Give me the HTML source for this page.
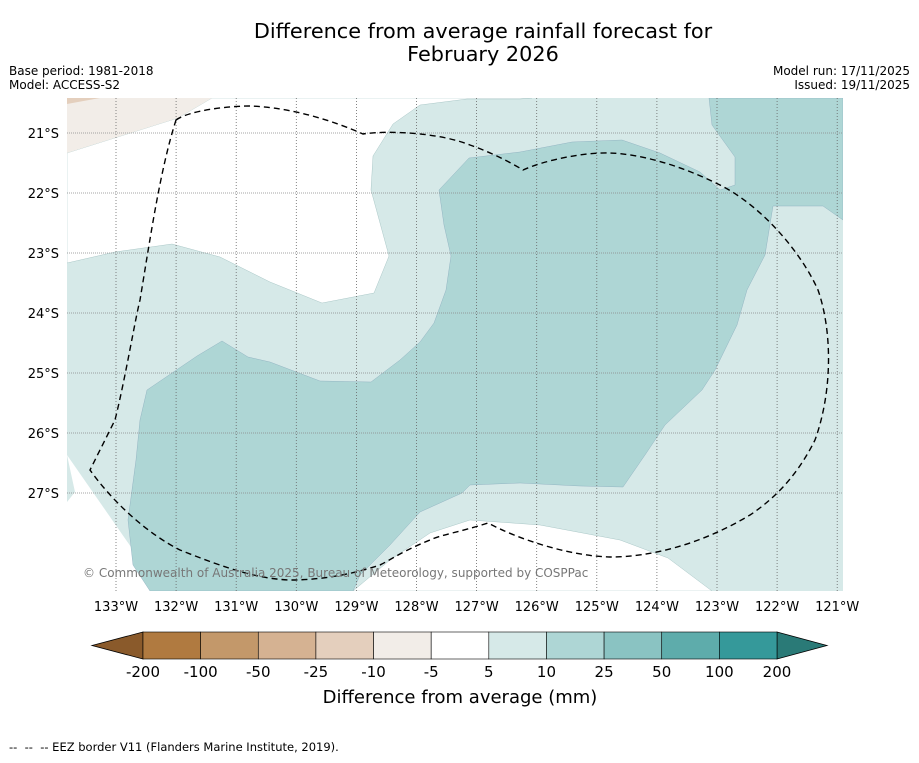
<!DOCTYPE html>
<html><head><meta charset="utf-8"><style>
body{margin:0;background:#fff;font-family:"Liberation Sans","DejaVu Sans",sans-serif}
svg text{font-family:"DejaVu Sans","Liberation Sans",sans-serif}
</style></head><body>
<svg id="chart" width="919" height="758" xmlns="http://www.w3.org/2000/svg">
<text x="483" y="38" font-size="20.8" text-anchor="middle">Difference from average rainfall forecast for</text>
<text x="483" y="61" font-size="20.8" text-anchor="middle">February 2026</text>
<text x="9" y="75" font-size="12">Base period: 1981-2018</text>
<text x="9" y="89" font-size="12">Model: ACCESS-S2</text>
<text x="910" y="75" font-size="12" text-anchor="end">Model run: 17/11/2025</text>
<text x="910" y="89" font-size="12" text-anchor="end">Issued: 19/11/2025</text>
<defs><clipPath id="mc"><rect x="67" y="98" width="776" height="493"/></clipPath></defs>
<g clip-path="url(#mc)">
<rect x="67" y="98" width="776" height="493" fill="#d6e9e8"/>
<polygon fill="#ffffff" stroke="#9bb" stroke-width="0.4" points="67,153 178,118 212,98 532,98 520,99 467,99 420,105 393,124 373,156 371,190 389,256 374,293 322,303 270,282 220,257 172,244 115,252 67,263"/>
<polygon fill="#f2ede8" points="67,98 212,98 178,118 67,153"/>
<polygon fill="#e4cfbd" points="67,98 100,98 67,104"/>
<polygon fill="#ffffff" points="67,455 75,492 67,502 67,591 150,591 140,560"/>
<polygon fill="#ffffff" stroke="#9bb" stroke-width="0.4" points="353,591 390,560 430,533 470,520 540,525 620,540 668,558 712,591"/>
<polygon fill="#aed6d5" stroke="#8ab" stroke-width="0.4" points="709,98 843,98 843,220 823,206 773,206 765,255 747,290 737,325 715,370 702,390 665,425 645,455 623,487 580,486 520,483 470,485 462,493 420,512 390,545 360,575 353,591 150,591 133,565 128,520 136,460 140,420 147,390 197,356 222,341 248,357 270,362 320,381 371,382 400,360 420,342 434,323 446,290 451,256 444,225 439,190 469,158 520,152 572,142 622,140 660,153 700,172 720,190 735,185 735,157 712,125"/>
<g id="grid"></g>
<path fill="none" stroke="#000" stroke-width="1.4" stroke-dasharray="6,4" d="M176,120 C190,110 230,106 250,106 C280,107 320,115 363,134 C390,130 440,133 470,145 C490,152 510,162 523,170 C545,160 585,152 610,153 C640,154 680,165 720,185 C760,205 800,250 818,290 C832,330 833,390 815,440 C800,470 780,495 750,515 C700,545 650,557 610,557 C570,556 520,540 488,523 C460,532 440,535 430,540 C405,550 390,560 380,565 C350,575 320,580 290,580 C260,579 230,570 180,550 C150,535 115,505 90,470 C100,450 110,430 115,420 C125,380 135,320 140,300 C150,240 160,170 176,120 Z"/>
<text x="83" y="577" font-size="12" fill="#777">© Commonwealth of Australia 2025, Bureau of Meteorology, supported by COSPPac</text>
</g>
<g id="axes"></g>
<g id="cbar"></g>
<text x="460" y="703" font-size="18" text-anchor="middle">Difference from average (mm)</text>
<text x="9" y="751" font-size="11.5" xml:space="preserve">--  --  -- EEZ border V11 (Flanders Marine Institute, 2019).</text>
</svg>
<script>
const lonTicks=[133,132,131,130,129,128,127,126,125,124,123,122,121];
const latTicks=[21,22,23,24,25,26,27];
const cbLabels=["-200","-100","-50","-25","-10","-5","5","10","25","50","100","200"];
const cbColors=["#b07a40","#c3986a","#d5b292","#e4cfbd","#f2ede8","#ffffff","#d6e9e8","#aed6d5","#8ac3c2","#5eacab","#35999a"];
const NS="http://www.w3.org/2000/svg";
function xLon(l){return 116+(133-l)*60.1;}
function yLat(l){return 133+(l-21)*60;}
function mk(t,a,p){const e=document.createElementNS(NS,t);for(const k in a)e.setAttribute(k,a[k]);p.appendChild(e);return e;}
const grid=document.getElementById('grid'),axes=document.getElementById('axes'),cb=document.getElementById('cbar');
lonTicks.forEach(l=>{const x=xLon(l);
 const g=mk('line',{x1:x,x2:x,y1:98,y2:591,stroke:'#666','stroke-width':0.8,'stroke-dasharray':'1,2'},grid);
 
 
 const t=mk('text',{x:x,y:611,'font-size':13,'text-anchor':'middle'},axes);t.textContent=l+'°W';
 
 });
latTicks.forEach(l=>{const y=yLat(l);
 const g=mk('line',{x1:67,x2:843,y1:y,y2:y,stroke:'#888','stroke-width':0.8,'stroke-dasharray':'1,1'},grid);
 
 
 const t=mk('text',{x:59,y:y+5,'font-size':13,'text-anchor':'end'},axes);t.textContent=l+'°S';
 
 });
const x0=143,x1=777,n=cbColors.length,w=(x1-x0)/n;
const lt=mk('polygon',{points:`92,645.5 ${x0},632 ${x0},659`,fill:'#8a5a2b',stroke:'#000','stroke-width':0.8},cb);


const rt=mk('polygon',{points:`827,645.5 ${x1},632 ${x1},659`,fill:'#2a7a77',stroke:'#000','stroke-width':0.8},cb);


cbColors.forEach((c,i)=>{const r=mk('rect',{x:x0+i*w,y:632,width:w,height:27,fill:c,stroke:'#000','stroke-width':0.6},cb);
 
 });
cbLabels.forEach((s,i)=>{const t=mk('text',{x:x0+i*w,y:677,'font-size':15,'text-anchor':'middle'},cb);t.textContent=s;
 
 });
</script>
</body></html>
